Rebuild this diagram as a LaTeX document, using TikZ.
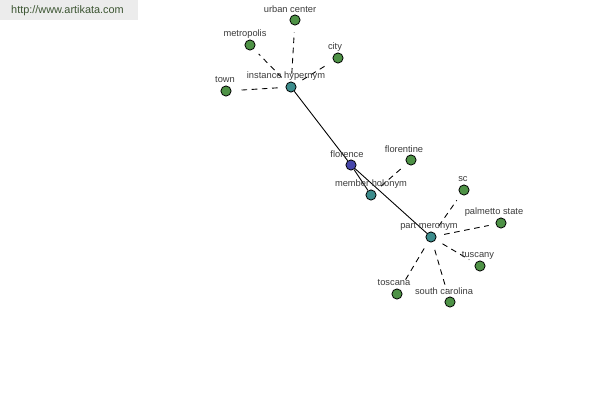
\documentclass[tikz,border=0pt]{standalone}
\usepackage{fontspec}
\setmainfont{Liberation Sans}
\definecolor{leafgreen}{RGB}{78,146,70}
\definecolor{hubteal}{RGB}{60,140,140}
\definecolor{rootblue}{RGB}{70,70,170}
\definecolor{labelgray}{RGB}{60,60,60}
\definecolor{bargray}{RGB}{236,236,236}
\definecolor{urlgreen}{RGB}{60,85,50}
\tikzset{
  dot/.style={circle,draw=black,line width=0.45pt,inner sep=0pt,minimum size=5.8pt},
  leaf/.style={dot,fill=leafgreen},
  hub/.style={dot,fill=hubteal},
  root/.style={dot,fill=rootblue},
  lbl/.style={text=labelgray,font=\fontsize{5.3}{6}\selectfont,inner sep=0pt},
  rel/.style={line width=0.5pt,dashed,dash pattern=on 3.2pt off 2.6pt,shorten <=4.5pt,shorten >=4pt}
}
\begin{document}
\begin{tikzpicture}[x=0.02cm,y=-0.02cm]
\useasboundingbox (0,0) rectangle (600,400);
\fill[white] (0,0) rectangle (600,400);

\fill[bargray] (0,0) rectangle (138,20);
\node[text=urlgreen,font=\fontsize{6.2}{7}\selectfont,anchor=west] (url) at (5,11) {http://www.artikata.com};

% nodes
\node[root] (florence) at (351,165) {};
\node[hub] (hyper) at (291,87) {};
\node[hub] (holo) at (371,195) {};
\node[hub] (mero) at (431,237) {};

\node[leaf] (urban) at (295,20) {};
\node[leaf] (metro) at (250,45) {};
\node[leaf] (city) at (338,58) {};
\node[leaf] (town) at (226,91) {};
\node[leaf] (florentine) at (411,160) {};
\node[leaf] (sc) at (464,190) {};
\node[leaf] (palmetto) at (501,223) {};
\node[leaf] (tuscany) at (480,266) {};
\node[leaf] (carolina) at (450,302) {};
\node[leaf] (toscana) at (397,294) {};

% edges
\draw[line width=0.5pt] (hyper) -- (florence);
\draw[line width=0.5pt] (florence) -- (holo);
\draw[line width=0.5pt] (florence) -- (mero);

\foreach \a/\b in {hyper/urban,hyper/metro,hyper/city,hyper/town,holo/florentine,
  mero/sc,mero/palmetto,mero/tuscany,mero/carolina,mero/toscana}
  \draw[rel] (\a) -- (\b);

% labels
\node[lbl] (l-urban) at (290,9) {urban center};
\node[lbl] (l-metro) at (245,34) {metropolis};
\node[lbl] (l-city) at (335,47) {city};
\node[lbl] (l-town) at (225,80) {town};
\node[lbl] (l-hyper) at (286,76) {instance hypernym};
\node[lbl] (l-florence) at (347,154) {florence};
\node[lbl] (l-florentine) at (404,149) {florentine};
\node[lbl] (l-holo) at (371,184) {member holonym};
\node[lbl] (l-sc) at (463,179) {sc};
\node[lbl] (l-palmetto) at (494,212) {palmetto state};
\node[lbl] (l-mero) at (429,226) {part meronym};
\node[lbl] (l-tuscany) at (478,255) {tuscany};
\node[lbl] (l-carolina) at (444,291) {south carolina};
\node[lbl] (l-toscana) at (394,283) {toscana};

\end{tikzpicture}
\end{document}
